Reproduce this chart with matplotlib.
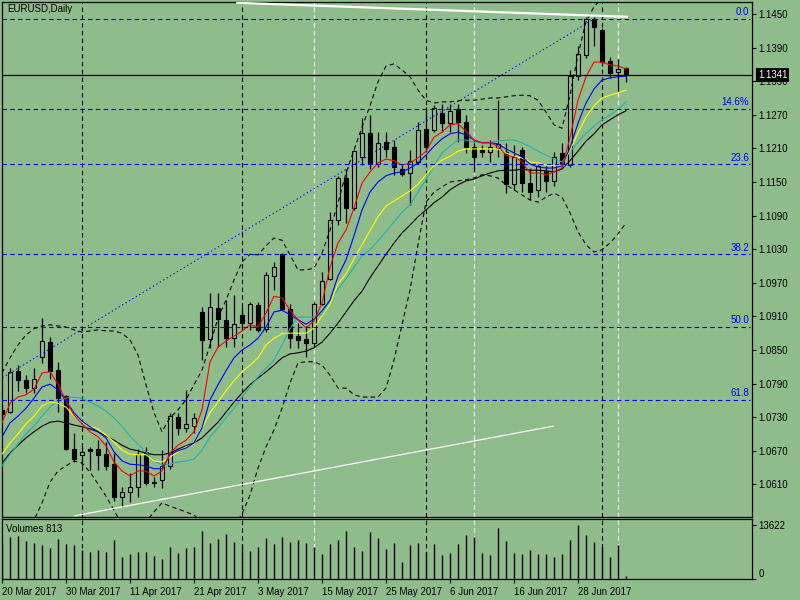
import matplotlib
matplotlib.use("Agg")
import matplotlib.pyplot as plt
import matplotlib.transforms as mtransforms

plt.rcParams['font.family'] = ['Liberation Sans', 'DejaVu Sans']

BG = "#8FBC8B"
FS = 7.0

# ---- daily bars, 20 Mar 2017 .. 6 Jul 2017 ----
opens = [1.0743, 1.0740, 1.0812, 1.0796, 1.0782, 1.0838, 1.0864, 1.0814, 1.0767, 1.0674,
         1.0662, 1.0673, 1.0673, 1.0664, 1.0646, 1.0588, 1.0596, 1.0605, 1.0668, 1.0615,
         1.0618, 1.0642, 1.0731, 1.0711, 1.0715, 1.0917, 1.0869, 1.0925, 1.0904, 1.0872,
         1.0912, 1.0898, 1.0930, 1.0887, 1.0983, 1.1021, 1.0924, 1.0875, 1.0869, 1.0862,
         1.0932, 1.0976, 1.1083, 1.1158, 1.1104, 1.1195, 1.1237, 1.1183, 1.1221, 1.1212,
         1.1174, 1.1166, 1.1186, 1.1245, 1.1243, 1.1274, 1.1255, 1.1280, 1.1257, 1.1212,
         1.1208, 1.1204, 1.1211, 1.1204, 1.1146, 1.1208, 1.1148, 1.1136, 1.1170, 1.1152,
         1.1201, 1.1180, 1.1339, 1.1377, 1.1441, 1.1421, 1.1366, 1.1346, 1.1353]
highs = [1.0752, 1.0818, 1.0823, 1.0805, 1.0818, 1.0907, 1.0874, 1.0829, 1.0770, 1.0702,
         1.0677, 1.0677, 1.0689, 1.0686, 1.0666, 1.0606, 1.0630, 1.0674, 1.0677, 1.0624,
         1.0671, 1.0737, 1.0737, 1.0779, 1.0738, 1.0927, 1.0951, 1.0951, 1.0939, 1.0948,
         1.0927, 1.0936, 1.0936, 1.0990, 1.1008, 1.1023, 1.0933, 1.0898, 1.0892, 1.0936,
         1.0990, 1.1097, 1.1160, 1.1174, 1.1208, 1.1264, 1.1270, 1.1240, 1.1240, 1.1225,
         1.1180, 1.1207, 1.1258, 1.1284, 1.1287, 1.1290, 1.1290, 1.1290, 1.1270, 1.1225,
         1.1216, 1.1225, 1.1296, 1.1219, 1.1216, 1.1213, 1.1175, 1.1183, 1.1180, 1.1204,
         1.1219, 1.1350, 1.1392, 1.1445, 1.1445, 1.1425, 1.1373, 1.1370, 1.1356]
lows = [1.0725, 1.0738, 1.0776, 1.0773, 1.0773, 1.0827, 1.0799, 1.0740, 1.0671, 1.0650,
        1.0642, 1.0636, 1.0636, 1.0636, 1.0581, 1.0570, 1.0579, 1.0588, 1.0609, 1.0606,
        1.0603, 1.0637, 1.0698, 1.0704, 1.0702, 1.0832, 1.0853, 1.0856, 1.0856, 1.0856,
        1.0886, 1.0886, 1.0883, 1.0883, 1.0957, 1.0921, 1.0853, 1.0853, 1.0838, 1.0856,
        1.0930, 1.0975, 1.1073, 1.1077, 1.1100, 1.1180, 1.1174, 1.1177, 1.1195, 1.1163,
        1.1160, 1.1109, 1.1183, 1.1204, 1.1240, 1.1240, 1.1240, 1.1222, 1.1201, 1.1168,
        1.1195, 1.1186, 1.1195, 1.1130, 1.1136, 1.1133, 1.1118, 1.1124, 1.1133, 1.1142,
        1.1177, 1.1177, 1.1332, 1.1371, 1.1392, 1.1363, 1.1336, 1.1313, 1.1329]
closes = [1.0736, 1.0811, 1.0796, 1.0783, 1.0798, 1.0866, 1.0813, 1.0764, 1.0674, 1.0655,
          1.0668, 1.0670, 1.0662, 1.0643, 1.0588, 1.0596, 1.0605, 1.0664, 1.0613, 1.0613,
          1.0643, 1.0732, 1.0711, 1.0717, 1.0729, 1.0867, 1.0926, 1.0905, 1.0872, 1.0896,
          1.0899, 1.0932, 1.0886, 1.0984, 1.0998, 1.0923, 1.0872, 1.0867, 1.0862, 1.0932,
          1.0974, 1.1083, 1.1158, 1.1104, 1.1206, 1.1237, 1.1182, 1.1219, 1.1209, 1.1177,
          1.1164, 1.1188, 1.1243, 1.1212, 1.1282, 1.1255, 1.1277, 1.1257, 1.1213, 1.1195,
          1.1203, 1.1212, 1.1218, 1.1146, 1.1195, 1.1149, 1.1133, 1.1179, 1.1151, 1.1194,
          1.1183, 1.1339, 1.1378, 1.1441, 1.1426, 1.1364, 1.1345, 1.1351, 1.1341]
volumes = [9000, 10670, 10925, 9587, 9158, 8578, 7897, 10092, 8830, 8578,
           7317, 6888, 7317, 6888, 9840, 5626, 6308, 6736, 6736, 5803,
           5046, 8074, 6635, 7897, 8149, 12186, 9083, 10092, 11354, 9411,
           8578, 7140, 8149, 10269, 8830, 10597, 9411, 9840, 9158, 8149,
           6308, 8830, 9840, 12110, 8074, 7064, 11934, 10420, 7569, 9007,
           4289, 8578, 9083, 6888, 8830, 6055, 6635, 8830, 11101, 10597,
           6560, 6055, 12943, 9587, 6560, 6308, 7317, 6308, 6308, 5551,
           6308, 9840, 13622, 11101, 9335, 8074, 5551, 8578, 813]

# ---- indicator lines as drawn on the chart ----
ma_red = [1.0720, 1.0755, 1.0766, 1.0770, 1.0780, 1.0809, 1.0811, 1.0789, 1.0759, 1.0734,
          1.0718, 1.0704, 1.0695, 1.0679, 1.0650, 1.0634, 1.0625, 1.0634, 1.0634, 1.0625,
          1.0634, 1.0666, 1.0680, 1.0689, 1.0704, 1.0743, 1.0829, 1.0855, 1.0866, 1.0875,
          1.0884, 1.0895, 1.0891, 1.0916, 1.0946, 1.0943, 1.0921, 1.0904, 1.0889, 1.0902,
          1.0934, 1.0998, 1.1041, 1.1064, 1.1104, 1.1148, 1.1168, 1.1184, 1.1191, 1.1188,
          1.1180, 1.1184, 1.1193, 1.1205, 1.1230, 1.1239, 1.1252, 1.1254, 1.1241, 1.1225,
          1.1220, 1.1220, 1.1214, 1.1198, 1.1195, 1.1186, 1.1166, 1.1166, 1.1163, 1.1168,
          1.1175, 1.1229, 1.1296, 1.1338, 1.1364, 1.1364, 1.1359, 1.1357, 1.1352]
ma_blue = [1.0695, 1.0720, 1.0732, 1.0746, 1.0764, 1.0784, 1.0789, 1.0779, 1.0759, 1.0738,
           1.0723, 1.0713, 1.0704, 1.0693, 1.0668, 1.0652, 1.0646, 1.0645, 1.0643, 1.0638,
           1.0638, 1.0663, 1.0670, 1.0675, 1.0684, 1.0711, 1.0761, 1.0788, 1.0813, 1.0836,
           1.0850, 1.0859, 1.0871, 1.0891, 1.0918, 1.0921, 1.0913, 1.0904, 1.0896, 1.0905,
           1.0920, 1.0939, 1.0982, 1.1011, 1.1054, 1.1100, 1.1132, 1.1150, 1.1161, 1.1166,
           1.1168, 1.1175, 1.1184, 1.1198, 1.1214, 1.1227, 1.1236, 1.1239, 1.1234, 1.1225,
           1.1220, 1.1220, 1.1218, 1.1209, 1.1202, 1.1195, 1.1182, 1.1177, 1.1175, 1.1175,
           1.1179, 1.1211, 1.1255, 1.1291, 1.1316, 1.1332, 1.1336, 1.1338, 1.1339]
ma_yellow = [1.0664, 1.0684, 1.0700, 1.0718, 1.0732, 1.0750, 1.0757, 1.0755, 1.0748, 1.0732,
             1.0721, 1.0714, 1.0709, 1.0698, 1.0686, 1.0671, 1.0664, 1.0663, 1.0663, 1.0652,
             1.0650, 1.0659, 1.0668, 1.0677, 1.0682, 1.0711, 1.0738, 1.0757, 1.0777, 1.0795,
             1.0811, 1.0823, 1.0836, 1.0859, 1.0871, 1.0879, 1.0880, 1.0880, 1.0880, 1.0889,
             1.0911, 1.0932, 1.0968, 1.0986, 1.1013, 1.1038, 1.1063, 1.1088, 1.1107, 1.1116,
             1.1125, 1.1134, 1.1146, 1.1163, 1.1179, 1.1189, 1.1196, 1.1205, 1.1209, 1.1209,
             1.1209, 1.1209, 1.1209, 1.1202, 1.1196, 1.1193, 1.1186, 1.1184, 1.1180, 1.1180,
             1.1180, 1.1207, 1.1238, 1.1266, 1.1286, 1.1300, 1.1305, 1.1309, 1.1314]
ma_teal = [1.0643, 1.0663, 1.0682, 1.0700, 1.0714, 1.0732, 1.0748, 1.0759, 1.0764, 1.0766,
           1.0763, 1.0757, 1.0750, 1.0741, 1.0729, 1.0714, 1.0696, 1.0682, 1.0668, 1.0652,
           1.0645, 1.0646, 1.0650, 1.0652, 1.0655, 1.0671, 1.0695, 1.0711, 1.0729, 1.0746,
           1.0766, 1.0784, 1.0802, 1.0818, 1.0832, 1.0859, 1.0888, 1.0909, 1.0909, 1.0909,
           1.0914, 1.0938, 1.0959, 1.0977, 1.0998, 1.1018, 1.1029, 1.1045, 1.1061, 1.1079,
           1.1096, 1.1109, 1.1132, 1.1154, 1.1179, 1.1202, 1.1214, 1.1225, 1.1225, 1.1221,
           1.1221, 1.1221, 1.1223, 1.1225, 1.1225, 1.1220, 1.1213, 1.1205, 1.1198, 1.1191,
           1.1186, 1.1204, 1.1221, 1.1237, 1.1250, 1.1261, 1.1270, 1.1279, 1.1293]
ma_black = [1.0648, 1.0666, 1.0680, 1.0693, 1.0704, 1.0714, 1.0721, 1.0723, 1.0720, 1.0716,
            1.0713, 1.0709, 1.0704, 1.0696, 1.0689, 1.0680, 1.0673, 1.0670, 1.0666, 1.0663,
            1.0663, 1.0666, 1.0673, 1.0679, 1.0684, 1.0693, 1.0707, 1.0721, 1.0739, 1.0757,
            1.0773, 1.0788, 1.0800, 1.0811, 1.0823, 1.0836, 1.0843, 1.0845, 1.0848, 1.0854,
            1.0864, 1.0880, 1.0898, 1.0918, 1.0938, 1.0955, 1.0979, 1.1000, 1.1021, 1.1041,
            1.1059, 1.1073, 1.1088, 1.1100, 1.1113, 1.1123, 1.1136, 1.1145, 1.1152, 1.1155,
            1.1161, 1.1166, 1.1170, 1.1171, 1.1171, 1.1173, 1.1171, 1.1171, 1.1170, 1.1168,
            1.1173, 1.1188, 1.1205, 1.1223, 1.1236, 1.1252, 1.1261, 1.1270, 1.1277]
bb_upper = [1.0809, 1.0836, 1.0859, 1.0877, 1.0888, 1.0893, 1.0895, 1.0893, 1.0891, 1.0886,
            1.0882, 1.0884, 1.0886, 1.0884, 1.0884, 1.0880, 1.0868, 1.0841, 1.0788, 1.0738,
            1.0704, 1.0729, 1.0743, 1.0761, 1.0788, 1.0814, 1.0859, 1.0907, 1.0939, 1.0975,
            1.1007, 1.1021, 1.1020, 1.1036, 1.1050, 1.1046, 1.1020, 1.0993, 1.0993, 1.0996,
            1.1023, 1.1064, 1.1113, 1.1166, 1.1207, 1.1248, 1.1286, 1.1329, 1.1357, 1.1361,
            1.1350, 1.1338, 1.1314, 1.1296, 1.1291, 1.1293, 1.1293, 1.1295, 1.1296, 1.1296,
            1.1298, 1.1300, 1.1300, 1.1302, 1.1304, 1.1305, 1.1304, 1.1296, 1.1275, 1.1252,
            1.1246, 1.1305, 1.1377, 1.1436, 1.1463, 1.1478, 1.1485, 1.1488, 1.1486]
bb_lower = [1.0475, 1.0502, 1.0520, 1.0532, 1.0546, 1.0577, 1.0614, 1.0634, 1.0643, 1.0652,
            1.0648, 1.0632, 1.0611, 1.0589, 1.0564, 1.0538, 1.0529, 1.0529, 1.0543, 1.0561,
            1.0577, 1.0571, 1.0566, 1.0561, 1.0555, 1.0543, 1.0532, 1.0525, 1.0525, 1.0538,
            1.0557, 1.0591, 1.0639, 1.0677, 1.0707, 1.0746, 1.0791, 1.0827, 1.0829, 1.0829,
            1.0823, 1.0805, 1.0782, 1.0782, 1.0770, 1.0766, 1.0766, 1.0766, 1.0782, 1.0832,
            1.0895, 1.0957, 1.1038, 1.1114, 1.1132, 1.1141, 1.1150, 1.1152, 1.1154, 1.1157,
            1.1163, 1.1161, 1.1157, 1.1145, 1.1136, 1.1127, 1.1118, 1.1114, 1.1123, 1.1130,
            1.1123, 1.1095, 1.1061, 1.1038, 1.1025, 1.1029, 1.1041, 1.1057, 1.1077]

# ---- axis labels ----
date_idx = [0, 8, 16, 24, 32, 40, 48, 56, 64, 72]
date_labels = ["20 Mar 2017", "30 Mar 2017", "11 Apr 2017", "21 Apr 2017", "3 May 2017",
               "15 May 2017", "25 May 2017", "6 Jun 2017", "16 Jun 2017", "28 Jun 2017"]
price_ticks = [1.0610, 1.0670, 1.0730, 1.0790, 1.0850, 1.0910, 1.0970, 1.1030,
               1.1090, 1.1150, 1.1210, 1.1270, 1.1330, 1.1390, 1.1450]
last_price = 1.1341

# ---- objects on the chart ----
fib_high, fib_low = 1.1441, 1.0341
fib_levels = [0.0, 0.146, 0.236, 0.382, 0.5, 0.618]
fib_texts = ["0.0", "14.6%", "23.6", "38.2", "50.0", "61.8"]
fib_anchor_idx = [-53, 74]
top_line_idx, top_line_px = [29.4, 78.1], [1.1470, 1.1445]
low_line_idx, low_line_px = [9.1, 68.9], [1.0554, 1.0714]
vlines_black = [10, 30, 53, 75]
vlines_white = [39, 59, 77]

fig = plt.figure(figsize=(8, 6), dpi=100, facecolor=BG)
ax = fig.add_axes([2 / 800, 1 - 517 / 600, 750 / 800, 515 / 600], facecolor=BG)
axv = fig.add_axes([2 / 800, 1 - 579 / 600, 750 / 800, 60 / 600], facecolor=BG)

n = len(opens)
xs = list(range(n))
dash = (0, (4, 3))

# vertical lines through both panels
for a in (ax, axv):
    for k in vlines_black:
        a.axvline(k, color='black', lw=0.8, ls=dash, zorder=1)
    for k in vlines_white:
        a.axvline(k, color='white', lw=0.8, ls=dash, zorder=1)

# candles
ax.vlines(xs, lows, highs, color='black', lw=0.9, zorder=2)
bottoms = [min(o, c) for o, c in zip(opens, closes)]
heights = [max(abs(c - o), 0.00012) for o, c in zip(opens, closes)]
faces = [BG if c >= o else 'black' for o, c in zip(opens, closes)]
ax.bar(xs, heights, bottom=bottoms, width=0.6, color=faces, edgecolor='black',
       linewidth=0.8, zorder=3)

# moving averages and bands
ax.plot(xs, ma_black, color='black', lw=0.8, zorder=4)
ax.plot(xs, ma_teal, color='#20B2AA', lw=0.8, zorder=4)
ax.plot(xs, ma_yellow, color='#FFFF00', lw=0.8, zorder=4)
ax.plot(xs, ma_blue, color='#0000FF', lw=0.8, zorder=4)
ax.plot(xs, ma_red, color='#FF0000', lw=0.8, zorder=4)
ax.plot(xs, bb_upper, color='black', lw=0.8, ls=dash, zorder=4)
ax.plot(xs, bb_lower, color='black', lw=0.8, ls=dash, zorder=4)

# fibonacci
fib_prices = [fib_high - r * (fib_high - fib_low) for r in fib_levels]
for p, t in zip(fib_prices, fib_texts):
    ax.axhline(p, xmin=0, xmax=748 / 750, color='#0000FF', lw=0.8, ls=dash, zorder=5)
    ax.text(747 / 750, p + 0.0003, t, transform=mtransforms.blended_transform_factory(
        ax.transAxes, ax.transData), ha='right', va='bottom', color='#0000FF',
        fontsize=FS, zorder=6)
ax.plot(fib_anchor_idx, [fib_low, fib_high], color='#0000FF', lw=0.8,
        ls=(0, (1.2, 2.4)), zorder=5)

# trend lines
ax.plot(top_line_idx, top_line_px, color='white', lw=1.6, zorder=5)
ax.plot(low_line_idx, low_line_px, color='white', lw=0.9, zorder=5)

# bid line and price label
ax.axhline(last_price, color='black', lw=0.9, zorder=5)
ax.text(1.008, last_price, f"{last_price:.4f}",
        transform=mtransforms.blended_transform_factory(ax.transAxes, ax.transData),
        ha='left', va='center', color='white', fontsize=FS, zorder=20, clip_on=False,
        bbox=dict(facecolor='black', edgecolor='none', pad=1.2))

ax.text(5 / 750, 0.986, "EURUSD,Daily", transform=ax.transAxes, ha='left',
        va='center', fontsize=FS, color='black')

ax.set_xlim(0, 93.75)
ax.set_ylim(1.05518, 1.14714)
ax.yaxis.tick_right()
ax.set_yticks(price_ticks)
ax.set_yticklabels([f"{t:.4f}" for t in price_ticks])
ax.tick_params(axis='y', direction='out', length=3, width=0.8, pad=1.5,
               labelsize=FS, colors='black')
ax.tick_params(axis='x', bottom=False, labelbottom=False)

# volumes
axv.vlines(xs, 0, volumes, color='black', lw=1.0, zorder=2)
axv.text(4 / 750, 0.84, f"Volumes {volumes[-1]}", transform=axv.transAxes,
         ha='left', va='center', fontsize=FS, color='black')
axv.set_xlim(0, 93.75)
axv.set_ylim(0, 15138)
axv.yaxis.tick_right()
axv.set_yticks([0, 13622])
axv.set_yticklabels(["0", "13622"])
axv.get_yticklabels()[0].set_va('bottom')
axv.tick_params(axis='y', direction='out', length=3, width=0.8, pad=1.5,
                labelsize=FS, colors='black')
axv.set_xticks(date_idx)
axv.set_xticklabels(date_labels, ha='left')
axv.tick_params(axis='x', direction='out', length=3, width=0.8, pad=3,
                labelsize=FS, colors='black')

for a in (ax, axv):
    for s in a.spines.values():
        s.set_color('black')
        s.set_linewidth(0.9)

fig.savefig("out.png", dpi=100, facecolor=BG)
